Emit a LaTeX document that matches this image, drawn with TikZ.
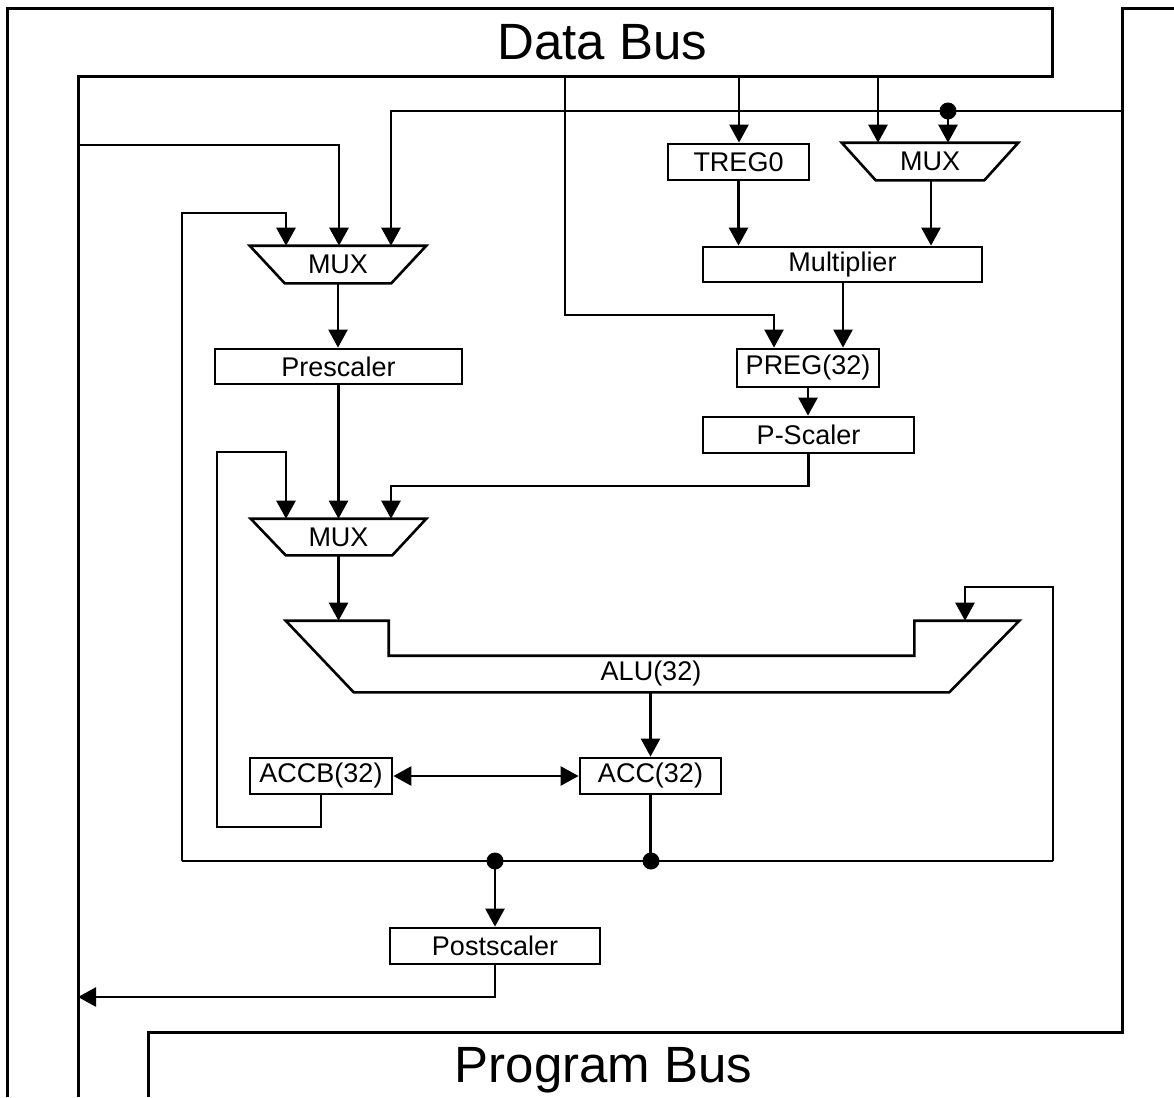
\documentclass[tikz,border=0pt]{standalone}
\usepackage{fontspec}
\setmainfont{Liberation Sans}
\usetikzlibrary{arrows.meta}
\begin{document}
\begin{tikzpicture}[x=1pt,y=-1pt,line width=2.6pt,
  arr/.style={-{Triangle[length=18pt,width=19pt]}},
  darr/.style={{Triangle[length=18pt,width=19pt]}-{Triangle[length=18pt,width=19pt]}},
  blk/.style={draw,line width=2.8pt,inner sep=0pt,font=\fontsize{27}{30}\selectfont},
  muxlbl/.style={inner sep=0pt,font=\fontsize{27}{30}\selectfont},
  lbl/.style={inner sep=0pt,font=\fontsize{27}{30}\selectfont},
  frame/.style={inner sep=0pt},
  big/.style={inner sep=0pt,font=\fontsize{51}{58}\selectfont},
  bus/.style={line width=3pt},
  dotm/.style={circle,fill,inner sep=0pt,minimum size=17pt}]
\useasboundingbox (0,0) rectangle (1174,1097);
\fill[white] (0,0) rectangle (1174,1097);

% buses
\draw[bus] (7,1097) -- (7,9) -- (1052,9) -- (1052,77) -- (78,77) -- (78,1097);
\draw[bus] (1174,9) -- (1122,9) -- (1122,1032) -- (148,1032) -- (148,1097);
\node[big,anchor=base] (dbus) at (602.5,60) {Data Bus};
\node[big,anchor=base] (pbus) at (603.5,1082) {Program Bus};

% blocks
\node[blk,minimum width=141pt,minimum height=36pt] (treg) at (738.5,162) {TREG0};
\node[muxlbl,minimum width=174pt,minimum height=35pt] (mux2) at (930,161.5) {MUX};
\node[blk,minimum width=279pt,minimum height=35pt] (mult) at (842.5,264.5) {Multiplier};
\node[blk,minimum width=142pt,minimum height=38pt] (preg) at (808,368) {PREG(32)};
\node[blk,minimum width=211pt,minimum height=36pt] (psc) at (808.5,435) {P-Scaler};
\node[muxlbl,minimum width=174pt,minimum height=35pt] (mux1) at (338,264.5) {MUX};
\node[blk,minimum width=247pt,minimum height=35pt] (pre) at (338.5,366.5) {Prescaler};
\node[muxlbl,minimum width=173pt,minimum height=34pt] (mux3) at (338.5,537) {MUX};
\node[frame,minimum width=731pt,minimum height=69pt] (alu) at (652.5,656.5) {};
\node[lbl] (alul) at (651,674) {ALU(32)};
\node[blk,minimum width=142pt,minimum height=36pt] (accb) at (321,776) {ACCB(32)};
\node[blk,minimum width=141pt,minimum height=36pt] (acc) at (650.5,776) {ACC(32)};
\node[blk,minimum width=210pt,minimum height=36pt] (post) at (495,946) {Postscaler};

% mux and alu outlines
\draw ([xshift=0pt]mux1.north west) -- (mux1.north east) -- ([xshift=-35pt]mux1.south east) -- ([xshift=35pt]mux1.south west) -- cycle;
\draw (mux2.north west) -- (mux2.north east) -- ([xshift=-34pt]mux2.south east) -- ([xshift=34pt]mux2.south west) -- cycle;
\draw (mux3.north west) -- (mux3.north east) -- ([xshift=-34pt]mux3.south east) -- ([xshift=35pt]mux3.south west) -- cycle;
\draw (alu.north west) -- ([xshift=103pt]alu.north west) -- ([xshift=103pt,yshift=-35pt]alu.north west)
  -- ([xshift=-105pt,yshift=-35pt]alu.north east) -- ([xshift=-105pt]alu.north east) -- (alu.north east)
  -- ([xshift=-70pt]alu.south east) -- ([xshift=68pt]alu.south west) -- cycle;

% bus tap coordinates
\coordinate (db1) at (78,145);
\coordinate (db2) at (565,77);
\coordinate (db3) at (739,77);
\coordinate (db4) at (878,77);
\coordinate (pb1) at (1122,111);
\coordinate (pb2) at (78,997);
\coordinate (fbL) at (182,861);
\coordinate (fbR) at (1053,861);

% connectors
\draw[arr] (db1) -| ([xshift=1pt]mux1.north);
\draw[arr] (pb1) -| ([xshift=53pt]mux1.north);
\draw[arr] (fbL) -- (182,213) -| ([xshift=-52pt]mux1.north);
\draw[arr] (mux1.south) -- (mux1.south |- pre.north);
\draw[arr] (pre.south) -- (pre.south |- mux3.north);
\draw[arr] (accb.south) -- (321,827) -- (217,827) -- (217,452) -| ([xshift=-52.5pt]mux3.north);
\draw[arr] (psc.south) -- (808.5,486) -| ([xshift=52.5pt]mux3.north);
\draw[arr] (mux3.south) -- (mux3.south |- alu.north);
\draw[arr] (fbR) -- (1053,587) -| ([xshift=312.5pt]alu.north);
\draw[arr] (acc.north |- alu.south) -- (acc.north);
\draw[darr] (accb.east) -- (acc.west);
\draw (fbL) -- (fbR);
\draw (acc.south) -- (acc.south |- fbR);
\draw[arr] (post.south |- fbL) -- (post.north);
\draw[arr] (post.south) -- (495,997) -- (pb2);
\draw[arr] (db2) -- (565,315) -| ([xshift=-34pt]preg.north);
\draw[arr] (db3) -- (db3 |- treg.north);
\draw[arr] (db4) -- (db4 |- mux2.north);
\coordinate (d1c) at (948,111);
\draw[arr] (d1c) -- (d1c |- mux2.north);
\draw[arr] (treg.south) -- (treg.south |- mult.north);
\draw[arr] ([xshift=1pt]mux2.south) -- ([xshift=1pt]mux2.south |- mult.north);
\draw[arr] ([xshift=35pt]preg.north |- mult.south) -- ([xshift=35pt]preg.north);
\draw[arr] (preg.south) -- (preg.south |- psc.north);

% junction dots
\node[dotm] (d1) at (d1c) {};
\node[dotm] (d2) at (495,861) {};
\node[dotm] (d3) at (651,861) {};
\end{tikzpicture}
\end{document}
